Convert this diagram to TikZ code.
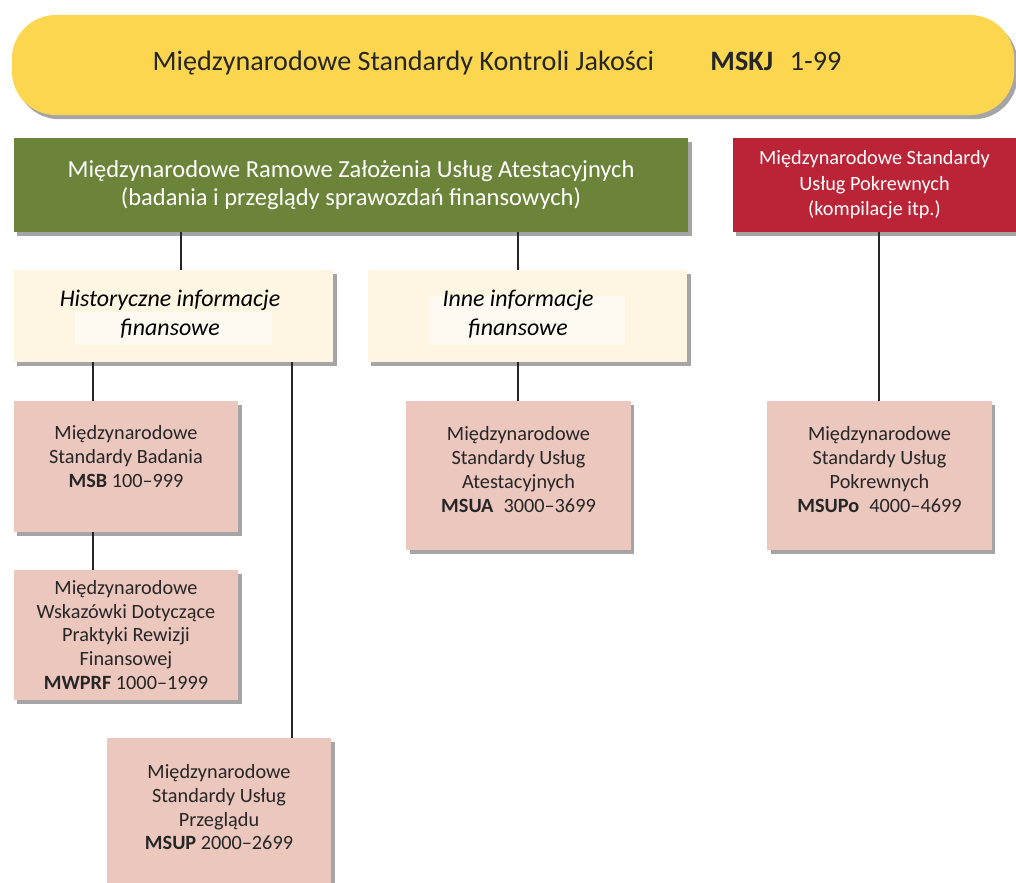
\documentclass[tikz,border=0pt]{standalone}
\usepackage{fontspec}
\setmainfont{Carlito}
\usetikzlibrary{positioning,shadows}
\definecolor{banner}{RGB}{253,214,80}
\definecolor{ramowe}{RGB}{107,132,58}
\definecolor{pokrew}{RGB}{187,35,54}
\definecolor{cream}{RGB}{254,245,226}
\definecolor{creamhi}{RGB}{255,251,243}
\definecolor{pink}{RGB}{235,199,190}
\definecolor{ink}{RGB}{38,38,38}
\tikzstyle{every box} = [drop shadow={shadow xshift=2.5pt, shadow yshift=-3pt, opacity=.5, fill=black!70}]
\tikzstyle{box} = [rectangle, inner sep=0pt, align=center, every box]
\tikzstyle{link} = [draw, line width=1pt, black!85]

\begin{document}
\begin{tikzpicture}[x=0.025cm, y=-0.025cm]
  \useasboundingbox (0,0) rectangle (1016,882);
  \tikzstyle{std} = [box, fill=pink, text=ink, minimum width=5.6cm,
                     font=\fontsize{14.4}{17}\selectfont]
  \tikzstyle{info} = [box, fill=cream, minimum width=7.975cm, minimum height=2.3cm]

  % top banner
  \node[box, fill=banner, rounded corners=1.1cm, minimum width=25.05cm,
        minimum height=2.5cm] (mskj) at (513,65) {};
  \node[font=\fontsize{20}{24}\selectfont, text=black!85] (mskjtxt) at (497,63)
    {Międzynarodowe Standardy Kontroli Jakości\hspace{40pt}\textbf{MSKJ}\hspace{12pt}1-99};

  % second level
  \node[box, fill=ramowe, text=white, minimum width=16.85cm, minimum height=2.35cm,
        font=\fontsize{17.4}{20}\selectfont] (ramowe) at (351,185)
    {Międzynarodowe Ramowe Założenia Usług Atestacyjnych\\
     (badania i przeglądy sprawozdań finansowych)};
  \node[box, fill=pokrew, text=white, minimum width=7.075cm, minimum height=2.35cm,
        font=\fontsize{14.4}{18}\selectfont] (pokrew) at (874.5,185)
    {Międzynarodowe Standardy\\ Usług Pokrewnych\\ (kompilacje itp.)};

  % information boxes
  \node[info] (hist) at (173.5,316) {};
  \fill[creamhi] (75,312) rectangle (272,345);
  \node[font=\fontsize{17}{21}\selectfont\itshape, align=center] (histtxt) at (170,314)
    {Historyczne informacje\\ finansowe};
  \node[info] (inne) at (527.5,316) {};
  \fill[creamhi] (430,296) rectangle (625,345);
  \node[font=\fontsize{17}{21}\selectfont\itshape, align=center] (innetxt) at (518,314)
    {Inne informacje\\ finansowe};

  % standards
  \node[std, minimum height=3.275cm, text depth=14pt] (msb) at (126,466.5)
    {Międzynarodowe\\ Standardy Badania\\ \textbf{MSB} 100–999};
  \node[std, minimum height=3.25cm] (mwprf) at (126,635)
    {Międzynarodowe\\ Wskazówki Dotyczące\\ Praktyki Rewizji\\ Finansowej\\ \textbf{MWPRF} 1000–1999};
  \node[std, minimum height=4.05cm, text depth=17pt] (msup) at (219,819)
    {Międzynarodowe\\ Standardy Usług\\ Przeglądu\\ \textbf{MSUP} 2000–2699};
  \node[std, minimum height=3.725cm, text depth=9pt] (msua) at (518.5,475.5)
    {Międzynarodowe\\ Standardy Usług\\ Atestacyjnych\\ \textbf{MSUA}\enspace3000–3699};
  \node[std, minimum height=3.725cm, text depth=9pt] (msupo) at (879.5,475.5)
    {Międzynarodowe\\ Standardy Usług\\ Pokrewnych\\ \textbf{MSUPo}\enspace4000–4699};

  % connectors
  \draw[link] (ramowe.south -| 181,0) -- (hist.north -| 181,0);
  \draw[link] (ramowe.south -| 518,0) -- (inne.north -| 518,0);
  \draw[link] (pokrew.south -| 879,0) -- (msupo.north -| 879,0);
  \draw[link] (hist.south -| 93,0) -- (msb.north -| 93,0);
  \draw[link] (msb.south -| 93,0) -- (mwprf.north -| 93,0);
  \draw[link] (hist.south -| 292,0) -- (msup.north -| 292,0);
  \draw[link] (inne.south -| 518,0) -- (msua.north -| 518,0);
\end{tikzpicture}
\end{document}
